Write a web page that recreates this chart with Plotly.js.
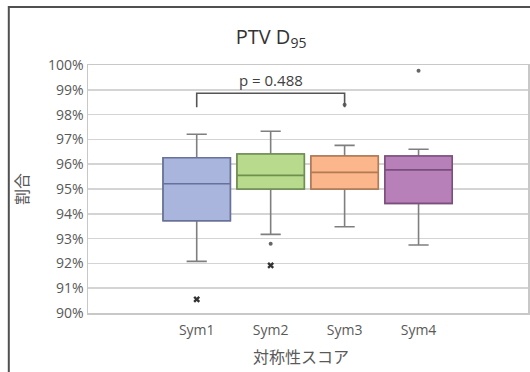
<!DOCTYPE html>
<html><head><meta charset="utf-8">
<script src="https://cdn.plot.ly/plotly-3.0.1.min.js"></script>
<style>html,body{margin:0;padding:0;background:#fff;}#chart{width:530px;height:372px;}</style>
</head><body><div id="chart"></div>
<script>
const categories = ['Sym1', 'Sym2', 'Sym3', 'Sym4'];
const q1 = [93.72, 95.00, 95.00, 94.42];
const median = [95.21, 95.55, 95.67, 95.77];
const q3 = [96.26, 96.41, 96.33, 96.33];
const lowerWhisker = [92.08, 93.17, 93.48, 92.74];
const upperWhisker = [97.21, 97.33, 96.76, 96.60];
const fillColors = ['#a9b5dd', '#b7da8c', '#fbb68b', '#b880b9'];
const lineColors = ['#67719c', '#6e8f4e', '#b27a52', '#7b4e7d'];
const whiskerColor = '#7f7f7f';
const dotOutlierCats = ['Sym2', 'Sym3', 'Sym4'];
const dotOutlierVals = [92.79, 98.40, 99.77];
const crossOutlierCats = ['Sym1', 'Sym2'];
const crossOutlierVals = [90.55, 91.92];
const bracketCats = ['Sym1', 'Sym3'];
const bracketTop = 98.86;
const bracketEnd = 98.30;
const pLabel = 'p = 0.488';
const yTicks = [90, 91, 92, 93, 94, 95, 96, 97, 98, 99, 100];

const FONT = '"Open Sans", "Noto Sans CJK JP", sans-serif';
const JFONT = '"Noto Sans CJK JP", sans-serif';
const traces = [];
// whiskers (gray)
categories.forEach((c, i) => traces.push({
  type: 'box', x: [c],
  q1: [q1[i]], median: [median[i]], q3: [q3[i]],
  lowerfence: [lowerWhisker[i]], upperfence: [upperWhisker[i]],
  boxpoints: false, width: 0.91, whiskerwidth: 0.3,
  fillcolor: fillColors[i], line: {color: whiskerColor, width: 1.6},
  hoverinfo: 'skip', showlegend: false
}));
// colored box body on top
categories.forEach((c, i) => traces.push({
  type: 'box', x: [c],
  q1: [q1[i]], median: [median[i]], q3: [q3[i]],
  lowerfence: [q1[i]], upperfence: [q3[i]],
  boxpoints: false, width: 0.91, whiskerwidth: 0,
  fillcolor: fillColors[i], line: {color: lineColors[i], width: 1.6},
  hoverinfo: 'skip', showlegend: false
}));
traces.push({
  type: 'scatter', mode: 'markers', x: dotOutlierCats, y: dotOutlierVals,
  marker: {symbol: 'circle', size: 4, color: '#666'}, showlegend: false, hoverinfo: 'skip'
});
traces.push({
  type: 'scatter', mode: 'markers', x: crossOutlierCats, y: crossOutlierVals,
  marker: {symbol: 'x', size: 6, color: '#333', line: {width: 0}}, showlegend: false, hoverinfo: 'skip'
});
traces.push({
  type: 'scatter', mode: 'lines',
  x: [bracketCats[0], bracketCats[0], bracketCats[1], bracketCats[1]],
  y: [bracketEnd, bracketTop, bracketTop, bracketEnd],
  line: {color: '#555', width: 1.6}, showlegend: false, hoverinfo: 'skip'
});

const layout = {
  width: 530, height: 372,
  margin: {l: 88, r: 2, t: 65, b: 59},
  paper_bgcolor: '#fff', plot_bgcolor: '#fff',
  boxmode: 'overlay',
  font: {family: FONT, color: '#595959', size: 14},
  title: {text: 'PTV D<sub>95</sub>', font: {family: FONT, size: 20, color: '#333'},
          xref: 'paper', x: 0.416, xanchor: 'center', yref: 'container', y: 0.9, yanchor: 'middle'},
  xaxis: {
    type: 'category', categoryarray: categories, range: [-1.47, 4.48],
    showgrid: false, zeroline: false, ticks: 'outside', ticklen: 4, tickcolor: 'rgba(0,0,0,0)',
    showline: true, mirror: true, linecolor: '#c8c8c8', linewidth: 1.5,
    tickfont: {family: FONT, size: 14, color: '#595959'}
  },
  yaxis: {
    range: [90, 100], tickvals: yTicks, ticktext: yTicks.map(v => v + '%'),
    showgrid: true, gridcolor: '#d4d4d4', gridwidth: 1.5, zeroline: false, ticks: '',
    showline: true, mirror: true, linecolor: '#c8c8c8', linewidth: 1.5,
    tickfont: {family: FONT, size: 14, color: '#595959'}
  },
  annotations: [
    {text: pLabel, x: 'Sym2', y: 99.4, xref: 'x', yref: 'y', showarrow: false,
     font: {family: FONT, size: 15, color: '#404040'}, xanchor: 'center', yanchor: 'middle'},
    {text: '対称性スコア', xref: 'paper', yref: 'paper', x: 0.484, y: -0.175, showarrow: false,
     xanchor: 'center', yanchor: 'middle', font: {family: JFONT, size: 16, color: '#595959'}},
    {text: '割合', xref: 'paper', yref: 'paper', x: -0.152, y: 0.5, showarrow: false, textangle: -90,
     xanchor: 'center', yanchor: 'middle', font: {family: JFONT, size: 16, color: '#595959'}}
  ],
  shapes: [
    {type: 'rect', xref: 'paper', yref: 'paper', x0: -0.18, x1: 1.2, y0: -0.5, y1: 1.234,
     line: {color: '#505050', width: 2}, fillcolor: 'rgba(0,0,0,0)', layer: 'above'}
  ]
};
Plotly.newPlot('chart', traces, layout, {staticPlot: true});
</script></body></html>
